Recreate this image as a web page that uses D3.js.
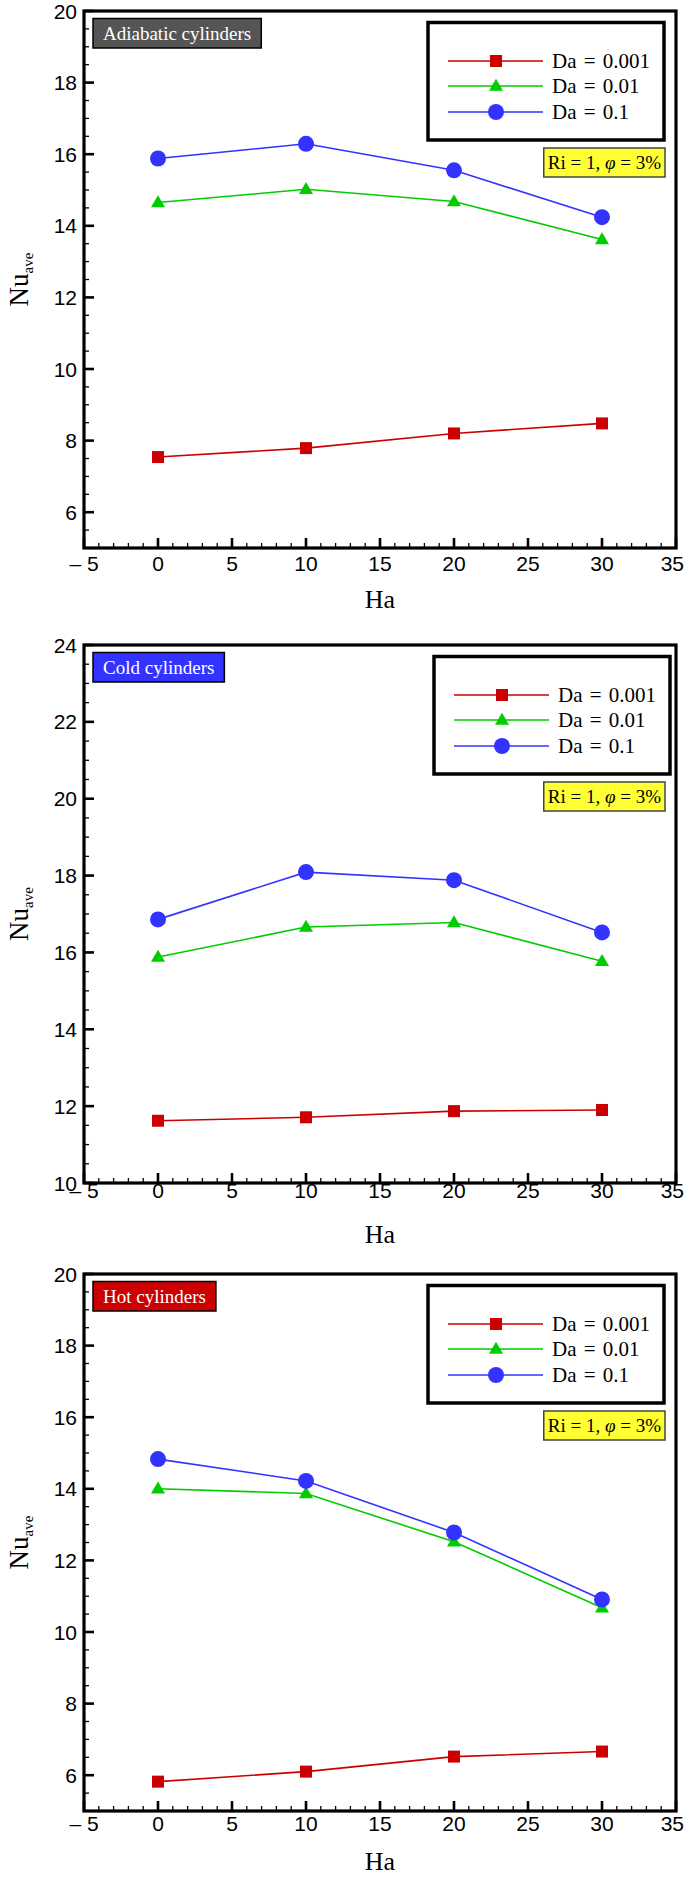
<!DOCTYPE html>
<html>
<head>
<meta charset="utf-8">
<script src="https://cdn.jsdelivr.net/npm/d3@7"></script>
<style>
  html, body { margin: 0; padding: 0; background: #fff; }
  svg { display: block; }
</style>
</head>
<body>
<svg id="chart" width="685" height="1878"></svg>
<script>
// ---------------- DATA ----------------
const ha = [0, 10, 20, 30];
const seriesNames = ["Da = 0.001", "Da = 0.01", "Da = 0.1"];
const xTicks = [-5, 0, 5, 10, 15, 20, 25, 30, 35];
const xTickLabels = ["\u2013 5", "0", "5", "10", "15", "20", "25", "30", "35"];

// Adiabatic cylinders
const adiabaticDa0001 = [7.54, 7.79, 8.20, 8.48];
const adiabaticDa001  = [14.65, 15.02, 14.68, 13.62];
const adiabaticDa01   = [15.88, 16.29, 15.55, 14.24];
const adiabaticYTicks = [6, 8, 10, 12, 14, 16, 18, 20];

// Cold cylinders
const coldDa0001 = [11.62, 11.71, 11.87, 11.90];
const coldDa001  = [15.88, 16.66, 16.78, 15.77];
const coldDa01   = [16.86, 18.09, 17.88, 16.52];
const coldYTicks = [10, 12, 14, 16, 18, 20, 22, 24];

// Hot cylinders
const hotDa0001 = [5.82, 6.10, 6.52, 6.66];
const hotDa001  = [14.00, 13.87, 12.52, 10.68];
const hotDa01   = [14.83, 14.22, 12.78, 10.91];
const hotYTicks = [6, 8, 10, 12, 14, 16, 18, 20];

const annotation = ["Ri = 1, ", "\u03C6", " = 3%"];

// ---------------- LAYOUT / STYLE ----------------
const colors = ["#cc0000", "#00cc00", "#3333ff"];
const markerTypes = ["square", "triangle", "circle"];
const serif = "'Liberation Serif', 'Times New Roman', serif";
const sans = "'Liberation Sans', Arial, sans-serif";

const panels = [
  { top: 11, bottom: 548, yDomain: [5, 20], yTicks: adiabaticYTicks,
    title: "Adiabatic cylinders", titleFill: "#555555",
    series: [adiabaticDa0001, adiabaticDa001, adiabaticDa01],
    legendX: 428, xLabelY: 571, haY: 608 },
  { top: 645, bottom: 1183, yDomain: [10, 24], yTicks: coldYTicks,
    title: "Cold cylinders", titleFill: "#3333ff",
    series: [coldDa0001, coldDa001, coldDa01],
    legendX: 434, xLabelY: 1198, haY: 1243 },
  { top: 1274, bottom: 1811, yDomain: [5, 20], yTicks: hotYTicks,
    title: "Hot cylinders", titleFill: "#cc0000",
    series: [hotDa0001, hotDa001, hotDa01],
    legendX: 428, xLabelY: 1831, haY: 1870 }
];

const left = 84, right = 676;
const svg = d3.select("#chart");

function drawMarker(g, type, x, y, color) {
  if (type === "square") {
    g.append("rect").attr("x", x - 6).attr("y", y - 6).attr("width", 12).attr("height", 12)
      .attr("fill", color);
  } else if (type === "triangle") {
    const h = 12, w = 14;
    g.append("path")
      .attr("d", `M${x},${y - h * 0.6}L${x + w / 2},${y + h * 0.4}L${x - w / 2},${y + h * 0.4}Z`)
      .attr("fill", color);
  } else {
    g.append("circle").attr("cx", x).attr("cy", y).attr("r", 8).attr("fill", color);
  }
}

panels.forEach(p => {
  const g = svg.append("g");
  const x = d3.scaleLinear().domain([-5, 35]).range([left, right]);
  const y = d3.scaleLinear().domain(p.yDomain).range([p.bottom, p.top]);

  // minor ticks
  const xMinor = d3.range(-5, 35.001, 1).filter(v => v % 5 !== 0);
  const yMinor = d3.range(p.yDomain[0], p.yDomain[1] + 0.001, 0.5)
    .filter(v => Math.abs(v % 2) > 1e-6);
  g.selectAll(".xminor").data(xMinor).join("line")
    .attr("x1", d => x(d)).attr("x2", d => x(d))
    .attr("y1", p.bottom).attr("y2", p.bottom - 5)
    .attr("stroke", "#000").attr("stroke-width", 1.3);
  g.selectAll(".yminor").data(yMinor).join("line")
    .attr("x1", left).attr("x2", left + 5)
    .attr("y1", d => y(d)).attr("y2", d => y(d))
    .attr("stroke", "#000").attr("stroke-width", 1.3);

  // major ticks
  g.selectAll(".xmajor").data(xTicks).join("line")
    .attr("x1", d => x(d)).attr("x2", d => x(d))
    .attr("y1", p.bottom).attr("y2", p.bottom - 10)
    .attr("stroke", "#000").attr("stroke-width", 2.6);
  g.selectAll(".ymajor").data(p.yTicks).join("line")
    .attr("x1", left).attr("x2", left + 10)
    .attr("y1", d => y(d)).attr("y2", d => y(d))
    .attr("stroke", "#000").attr("stroke-width", 2.6);

  // frame
  g.append("rect").attr("x", left).attr("y", p.top)
    .attr("width", right - left).attr("height", p.bottom - p.top)
    .attr("fill", "none").attr("stroke", "#000").attr("stroke-width", 3.2);

  // tick labels
  g.selectAll(".xlab").data(xTicks).join("text")
    .attr("x", d => x(d)).attr("y", p.xLabelY)
    .attr("text-anchor", "middle")
    .style("font-family", sans).style("font-size", "21px")
    .text((d, i) => xTickLabels[i])
    .each(function () {
      const w = this.getComputedTextLength();
      const cx = +this.getAttribute("x");
      if (cx + w / 2 > 684) this.setAttribute("x", 684 - w / 2);
    });
  g.selectAll(".ylab").data(p.yTicks).join("text")
    .attr("x", left - 7).attr("y", d => y(d) + 7.5)
    .attr("text-anchor", "end")
    .style("font-family", sans).style("font-size", "21px")
    .text(d => d);

  // axis titles
  g.append("text").attr("x", (left + right) / 2).attr("y", p.haY)
    .attr("text-anchor", "middle")
    .style("font-family", serif).style("font-size", "26px")
    .text("Ha");
  const cy = (p.top + p.bottom) / 2;
  const nu = g.append("text")
    .attr("transform", `translate(28,${cy}) rotate(-90)`)
    .attr("text-anchor", "middle")
    .style("font-family", serif).style("font-size", "27px");
  nu.append("tspan").text("Nu");
  nu.append("tspan").attr("dy", 5).style("font-size", "15px").text("ave");

  // series lines + markers
  p.series.forEach((vals, si) => {
    const pts = ha.map((h, i) => [x(h), y(vals[i])]);
    g.append("path").attr("d", d3.line()(pts))
      .attr("fill", "none").attr("stroke", colors[si]).attr("stroke-width", 1.6);
    pts.forEach(pt => drawMarker(g, markerTypes[si], pt[0], pt[1], colors[si]));
  });

  // title box
  const tg = g.append("g");
  const tt = tg.append("text")
    .attr("x", 93 + 10).attr("y", p.top + 7.5 + 21)
    .attr("fill", "#fff")
    .style("font-family", serif).style("font-size", "19px")
    .text(p.title);
  const tw = tt.node().getComputedTextLength();
  tg.insert("rect", "text")
    .attr("x", 93).attr("y", p.top + 7.5)
    .attr("width", tw + 20).attr("height", 29.5)
    .attr("fill", p.titleFill).attr("stroke", "#000").attr("stroke-width", 1.5);

  // legend
  const lx = p.legendX;
  g.append("rect").attr("x", lx).attr("y", p.top + 11.5)
    .attr("width", 236).attr("height", 117.5)
    .attr("fill", "#fff").attr("stroke", "#000").attr("stroke-width", 3.5);
  const rows = [50, 75, 101];
  seriesNames.forEach((name, si) => {
    const ry = p.top + rows[si];
    g.append("line").attr("x1", lx + 20).attr("x2", lx + 115)
      .attr("y1", ry).attr("y2", ry)
      .attr("stroke", colors[si]).attr("stroke-width", 1.6);
    drawMarker(g, markerTypes[si], lx + 68, ry, colors[si]);
    g.append("text").attr("x", lx + 124).attr("y", ry + 7)
      .style("font-family", serif).style("font-size", "21px")
      .style("word-spacing", "2px")
      .text(name);
  });

  // annotation box
  const ag = g.append("g");
  const at = ag.append("text")
    .attr("y", p.top + 137 + 21)
    .style("font-family", serif).style("font-size", "19px");
  at.append("tspan").text(annotation[0]);
  at.append("tspan").style("font-style", "italic").text(annotation[1]);
  at.append("tspan").text(annotation[2]);
  const aw = at.node().getComputedTextLength();
  const boxW = aw + 8;
  const boxX = 665 - boxW;
  at.attr("x", boxX + 4);
  ag.insert("rect", "text")
    .attr("x", boxX).attr("y", p.top + 137)
    .attr("width", boxW).attr("height", 29)
    .attr("fill", "#ffff33").attr("stroke", "#444").attr("stroke-width", 1.5);
});
</script>
</body>
</html>
